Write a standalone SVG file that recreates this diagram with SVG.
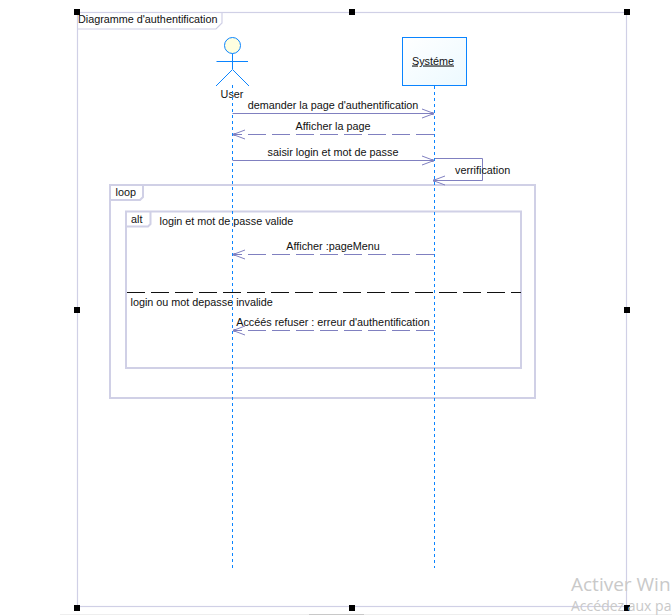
<svg xmlns="http://www.w3.org/2000/svg" width="672" height="615" viewBox="0 0 672 615">
<defs>
<linearGradient id="g" x1="0" y1="0" x2="1" y2="1"><stop offset="0" stop-color="#ffffff"/><stop offset="1" stop-color="#ecf9ff"/></linearGradient>
<marker id="open" markerUnits="userSpaceOnUse" markerWidth="14" markerHeight="12" refX="12" refY="6" orient="auto"><path d="M0 1.5L12 6L0 10.500" fill="none" stroke="#8080c0" stroke-width="1"/><circle cx="10.500" cy="6" r="1.500" fill="#8080c0"/></marker>
</defs>
<style>
text{font-family:"Liberation Sans",Arial,sans-serif;font-size:10.800px;fill:#111}
.frame{fill:none;stroke:#d0d0e6;stroke-width:1.200}
.frag{fill:none;stroke:#d0d0e6;stroke-width:2}
.life{stroke:#0a84ff;stroke-width:1;stroke-dasharray:3 3;fill:none}
.msg{stroke:#8080c0;stroke-width:1;fill:none;marker-end:url(#open)}
.ret{stroke-dasharray:18 6}
.h{fill:#000}
</style>
<rect width="672" height="615" fill="#fff"/>
<rect x="60" y="614" width="612" height="1" fill="#eeeeee"/>
<rect x="309" y="614" width="55" height="1" fill="#c8c8c8"/>
<g id="frame">
<rect class="frame" x="77.500" y="12.500" width="549" height="594"/>
<path class="frame" d="M77.500 29H216L222 23V12.500"/>
<text x="78" y="22.500">Diagramme d'authentification</text>
</g>
<g id="handles">
<rect class="h" x="74" y="9" width="6" height="6"/><rect class="h" x="349" y="9" width="6" height="6"/><rect class="h" x="624" y="9" width="6" height="6"/>
<rect class="h" x="74" y="307" width="6" height="6"/><rect class="h" x="624" y="307" width="6" height="6"/>
<rect class="h" x="74" y="605" width="6" height="6"/><rect class="h" x="349" y="605" width="6" height="6"/><rect class="h" x="624" y="605" width="6" height="6"/>
</g>
<g id="loop">
<rect class="frag" x="110" y="185" width="425" height="213"/>
<path class="frag" d="M110 200H140L143 197V185"/>
<text x="115.500" y="196">loop</text>
</g>
<g id="alt">
<rect class="frag" x="126" y="211.500" width="395" height="156.500"/>
<path class="frag" d="M126 226.500H148L150.500 224V211.500"/>
<text x="131" y="223">alt</text>
<text x="159.500" y="225">login et mot de passe valide</text>
<path d="M127 292.500H521" fill="none" stroke="#111" stroke-width="1" stroke-dasharray="18 6"/>
<text x="130.500" y="306">login ou mot depasse invalide</text>
</g>
<g id="user">
<circle cx="232.500" cy="45.500" r="8" fill="#ffffe0" stroke="#0a84ff" stroke-width="1"/>
<path d="M232.500 53.500V69M216.500 61.500H248M232.500 69.500L216 86M232.500 69.500L249 86" fill="none" stroke="#0a84ff" stroke-width="1"/>
<text x="232" y="97.500" text-anchor="middle">User</text>
</g>
<g id="systeme">
<rect x="402.500" y="37.500" width="64" height="48" fill="url(#g)" stroke="#0a84ff" stroke-width="1"/>
<text x="433" y="64.500" text-anchor="middle" text-decoration="underline">Systéme</text>
</g>
<g id="connectors">
<path class="life" d="M232.500 85V568"/>
<path class="life" d="M434.500 86V568"/>
<path class="msg" d="M232.500 113.500H434"/>
<path class="msg ret" d="M434 134.500H233"/>
<path class="msg" d="M232.500 160.500H434"/>
<path class="msg" d="M435 158.500H482.500V180.500H433"/>
<path class="msg ret" d="M434 254.500H233"/>
<path class="msg ret" d="M434 330.500H233"/>
</g>
<g id="labels">
<text x="333" y="108.500" text-anchor="middle">demander la page d'authentification</text>
<text x="333" y="129.500" text-anchor="middle">Afficher la page</text>
<text x="333" y="155.500" text-anchor="middle">saisir login et mot de passe</text>
<text x="455" y="173.500">verrification</text>
<text x="333" y="249.500" text-anchor="middle">Afficher :pageMenu</text>
<text x="333" y="325.500" text-anchor="middle">Accéés refuser : erreur d'authentification</text>
</g>
<g id="watermark">
<text x="571" y="591" style="font-size:19px;fill:#c9c9c9;font-family:'Open Sans','Liberation Sans',sans-serif">Activer Win</text>
<text x="571" y="611" style="font-size:14px;fill:#c9c9c9;font-family:'Open Sans','Liberation Sans',sans-serif">Accédez aux pa</text>
</g>
</svg>
